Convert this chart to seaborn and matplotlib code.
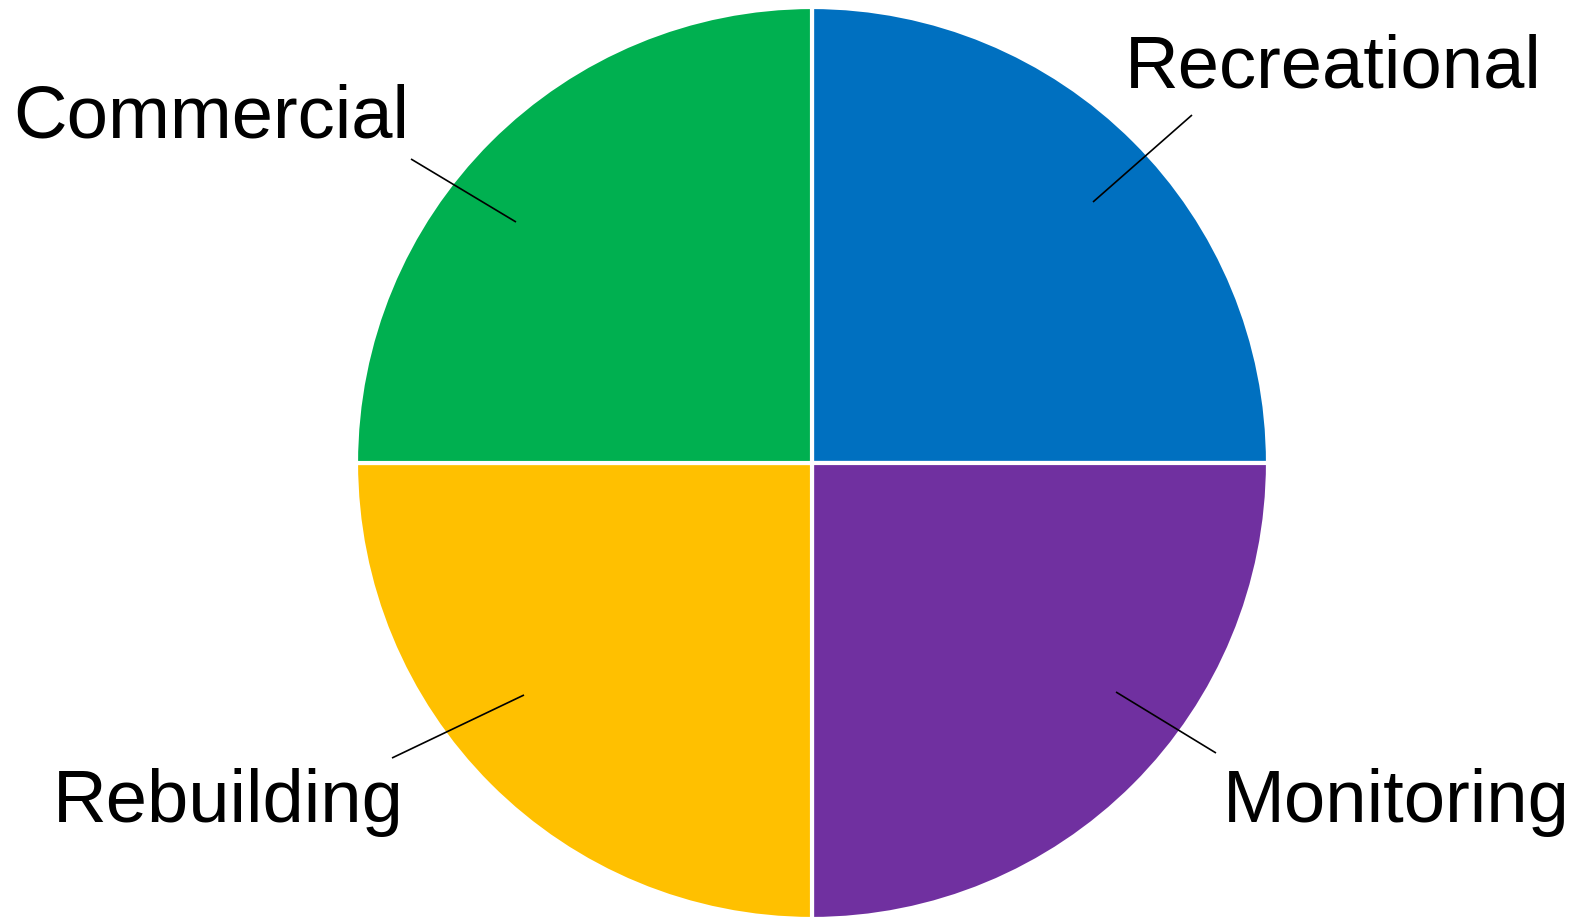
import numpy as np
import matplotlib
matplotlib.use("Agg")
import matplotlib.pyplot as plt
import seaborn as sns

# four equal programme areas
categories = ["Recreational", "Monitoring", "Rebuilding", "Commercial"]
shares = [25, 25, 25, 25]
colors = ["#0070C0", "#7030A0", "#FFC000", "#00B050"]

sns.set_theme(style="white")
plt.rcParams["font.family"] = ["Liberation Sans", "DejaVu Sans"]

W, H = 1579, 918
fig = plt.figure(figsize=(W / 100, H / 100), dpi=100)
ax = fig.add_axes([0, 0, 1, 1])

# pie in pixel-like coordinates (y measured up from bottom)
cx, cy, r = 812, H - 463, 456
ax.pie(shares, colors=colors, startangle=90, counterclock=False,
       center=(cx, cy), radius=r,
       wedgeprops=dict(edgecolor="white", linewidth=3))

# label placement: text center x, baseline y, leader line outer / inner end
label_pos = {
    "Recreational": (1333, 87, (1192, 115), (1093, 202)),
    "Monitoring": (1396, 822, (1216, 753), (1116, 692)),
    "Rebuilding": (228, 822, (392, 758), (524, 695)),
    "Commercial": (211, 138, (411, 159), (516, 222)),
}
for name in categories:
    tx, ty, p0, p1 = label_pos[name]
    ax.text(tx, H - ty, name, ha="center", va="baseline", fontsize=53.5, color="black")
    ax.plot([p0[0], p1[0]], [H - p0[1], H - p1[1]], color="black", lw=1.2,
            solid_capstyle="butt")

ax.set_xlim(0, W)
ax.set_ylim(0, H)
ax.set_aspect("equal")
ax.axis("off")

fig.savefig("out.png", dpi=100, facecolor="white")
